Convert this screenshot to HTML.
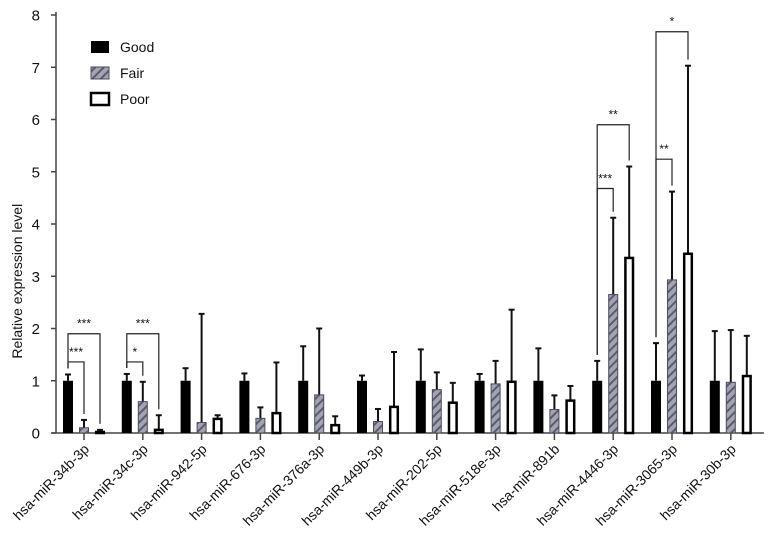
<!DOCTYPE html>
<html><head><meta charset="utf-8"><style>
body{margin:0;background:#fff}
svg text{font-family:"Liberation Sans",Arial,sans-serif;fill:#111}
</style></head><body>
<svg id="chart" width="771" height="549">
<defs><pattern id="hatch" patternUnits="userSpaceOnUse" width="6" height="6" patternTransform="rotate(45)">
<rect width="6" height="6" fill="#a4a4ac"/><rect width="2" height="6" fill="#5a5a78"/></pattern></defs>
</svg>
<script>
const categories=["hsa-miR-34b-3p","hsa-miR-34c-3p","hsa-miR-942-5p","hsa-miR-676-3p","hsa-miR-376a-3p","hsa-miR-449b-3p","hsa-miR-202-5p","hsa-miR-518e-3p","hsa-miR-891b","hsa-miR-4446-3p","hsa-miR-3065-3p","hsa-miR-30b-3p"];
const good=[1,1,1,1,1,1,1,1,1,1,1,1];
const goodErr=[1.12,1.13,1.24,1.14,1.66,1.1,1.6,1.13,1.62,1.38,1.72,1.95];
const fair=[0.1,0.6,0.2,0.28,0.73,0.22,0.83,0.94,0.45,2.65,2.93,0.97];
const fairErr=[0.25,0.98,2.28,0.49,2.0,0.46,1.16,1.38,0.72,4.12,4.62,1.97];
const poor=[0.02,0.06,0.27,0.38,0.15,0.5,0.58,0.98,0.62,3.35,3.43,1.09];
const poorErr=[0.06,0.34,0.34,1.35,0.32,1.55,0.96,2.36,0.9,5.1,7.03,1.86];
const yTicks=[0,1,2,3,4,5,6,7,8];
const sigGroup=[0,0,1,1,9,9,10,10];
const sigTarget=[1,2,1,2,1,2,1,2];
const sigLevel=[1.36,1.9,1.36,1.9,4.68,5.9,5.24,7.68];
const sigLabel=["***","***","*","***","***","**","**","*"];

const svg=document.getElementById('chart');const NS='http://www.w3.org/2000/svg';
function mk(t,a,p){const e=document.createElementNS(NS,t);for(const k in a)e.setAttribute(k,a[k]);(p||svg).appendChild(e);return e;}
const y=v=>433-v*52.25;
const gx=i=>84+i*58.8;
const off=[-16,0,16];
const bw=10;
const AX=56;
const ax=mk('line',{x1:AX,y1:12,x2:AX,y2:433,stroke:'#444','stroke-width':1.5});

const bx=mk('line',{x1:AX-4,y1:433,x2:764,y2:433,stroke:'#444','stroke-width':1.5});

yTicks.forEach(v=>{
  mk('line',{x1:AX-5,x2:AX,y1:y(v),y2:y(v),stroke:'#444','stroke-width':1.5});
  const t=mk('text',{x:40,y:y(v)+5.5,'text-anchor':'end','font-size':15});t.textContent=v;
  
});
const yt=mk('text',{x:0,y:0,'text-anchor':'middle','font-size':14,transform:`translate(22,${y(3)+5}) rotate(-90)`});
yt.textContent='Relative expression level';

const series=[good,fair,poor],errs=[goodErr,fairErr,poorErr],names=['good','fair','poor'];
categories.forEach((c,i)=>{
  const cx=gx(i);
  mk('line',{x1:cx,x2:cx,y1:433,y2:440,stroke:'#444','stroke-width':1.5});
  const t=mk('text',{x:0,y:0,'text-anchor':'end','font-size':14,transform:`translate(${cx+6},${450}) rotate(-45)`});
  t.textContent=c;
  series.forEach((s,k)=>{
    const x=cx+off[k];
    mk('line',{x1:x,x2:x,y1:y(errs[k][i]),y2:y(s[i]),stroke:'#111','stroke-width':2});
    mk('line',{x1:x-3,x2:x+3,y1:y(errs[k][i]),y2:y(errs[k][i]),stroke:'#111','stroke-width':2});
    let r;
    if(k===0)r=mk('rect',{x:x-bw/2,y:y(s[i]),width:bw,height:433-y(s[i]),fill:'#000'});
    else if(k===1)r=mk('rect',{x:x-bw/2+0.5,y:y(s[i]),width:bw-1,height:433-y(s[i]),fill:'url(#hatch)',stroke:'#4a4a60','stroke-width':1});
    else r=mk('rect',{x:x-bw/2+1.2,y:y(s[i]),width:bw-2.4,height:Math.max(433-y(s[i]),0.5),fill:'#fff',stroke:'#000','stroke-width':2.5});
    
  });
});
sigGroup.forEach((g,j)=>{
  const k=sigTarget[j],x1=gx(g)+off[0],x2=gx(g)+off[k],yy=y(sigLevel[j]);
  const p=mk('path',{d:`M${x1},${y(goodErr[g])-6}V${yy}H${x2}V${y(errs[k][g])-6}`,fill:'none',stroke:'#222','stroke-width':1.2});
  
  const t=mk('text',{x:(x1+x2)/2,y:yy-6,'text-anchor':'middle','font-size':12});t.textContent=sigLabel[j];
  
});
const leg=[['Good','#000','none',0],['Fair','url(#hatch)','#4a4a60',1],['Poor','#fff','#000',2.5]];
leg.forEach((l,i)=>{
  const yy=47+i*26;
  mk('rect',{x:91,y:yy-6,width:18,height:12,fill:l[1],stroke:l[2],'stroke-width':l[3]||1});
  const t=mk('text',{x:120,y:yy+5,'font-size':14});t.textContent=l[0];
  
});
</script>
</body></html>
